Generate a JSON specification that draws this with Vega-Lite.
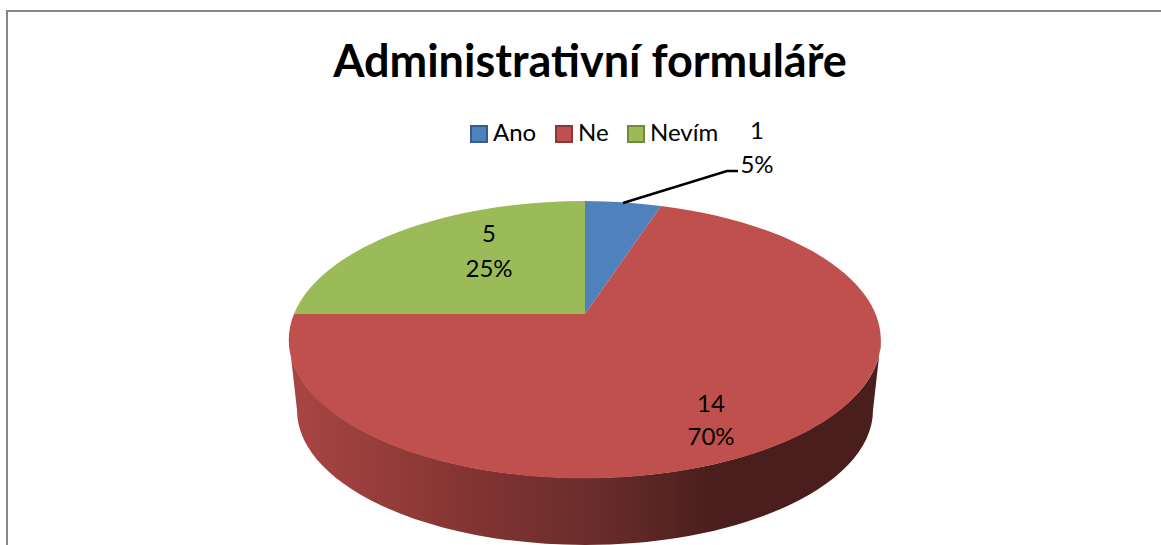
{"$schema":"https://vega.github.io/schema/vega-lite/v6.json","width":1158,"height":538,"autosize":{"type":"none"},"padding":{"left":7,"top":11,"right":0,"bottom":0},"background":"#ffffff","view":{"stroke":"#868686","strokeWidth":2,"fill":"#ffffff"},"title":{"text":"Administrativní formuláře","font":"Lato","fontSize":45,"fontWeight":"bold","color":"#000000","anchor":"middle","frame":"group","baseline":"alphabetic","offset":0,"dx":4,"dy":111},"data":{"values":[{"kategorie":"Ano","pocet":1,"podil":0.05},{"kategorie":"Ne","pocet":14,"podil":0.70},{"kategorie":"Nevím","pocet":5,"podil":0.25}]},"layer":[{"transform":[{"filter":"datum.kategorie === 'Ne'"}],"mark":{"type":"point","filled":true,"opacity":1,"size":4,"strokeWidth":0,"shape":"M-297,59.5 L-289,130 A288,135 0 0 0 287,130 L295,59.5 A296,138.5 0 0 1 -297,59.5 Z","fill":{"gradient":"linear","x1":0,"y1":0,"x2":1,"y2":0,"stops":[{"offset":0,"color":"#a94643"},{"offset":0.27,"color":"#873634"},{"offset":0.53,"color":"#672c2a"},{"offset":0.72,"color":"#4a1e1c"},{"offset":1,"color":"#4a1e1c"}]}},"encoding":{}},{"mark":{"type":"point","filled":true,"opacity":1,"size":4,"strokeWidth":0},"encoding":{"shape":{"field":"kategorie","type":"nominal","legend":null,"scale":{"domain":["Ano","Ne","Nevím"],"range":["M-1,34 L-1,-79 A296,138.5 0 0 1 75,-74 Z","M-1,34 L75,-74 A296,138.5 0 1 1 -292,34 Z","M-1,34 L-292,34 A296,138.5 0 0 1 -1,-79 Z"]}},"fill":{"field":"kategorie","type":"nominal","scale":{"domain":["Ano","Ne","Nevím"],"range":["#4f81bd","#c0504d","#9bbb59"]},"legend":{"title":null,"orient":"none","legendX":460,"legendY":111,"direction":"horizontal","symbolType":"square","symbolSize":256,"symbolStrokeWidth":2,"symbolOpacity":1,"labelFont":"Lato","labelFontSize":24,"labelColor":"#000000","labelOffset":2,"columnPadding":15,"padding":0}},"stroke":{"field":"kategorie","type":"nominal","scale":{"domain":["Ano","Ne","Nevím"],"range":["#385d8a","#8c3836","#71893f"]}}}},{"transform":[{"filter":"datum.kategorie === 'Ano'"}],"mark":{"type":"point","filled":false,"opacity":1,"size":4,"stroke":"#000000","strokeWidth":2.5,"shape":"M37,-77 L141,-109 L152,-109"},"encoding":{}},{"transform":[{"filter":"datum.kategorie === 'Ano'"}],"mark":{"type":"text","font":"Lato","fontSize":24,"color":"#000000","align":"center","baseline":"middle","dx":171,"dy":-148},"encoding":{"text":{"field":"pocet","type":"quantitative"}}},{"transform":[{"filter":"datum.kategorie === 'Ano'"}],"mark":{"type":"text","font":"Lato","fontSize":24,"color":"#000000","align":"center","baseline":"middle","dx":171,"dy":-114},"encoding":{"text":{"field":"podil","type":"quantitative","format":".0%"}}},{"transform":[{"filter":"datum.kategorie === 'Nevím'"}],"mark":{"type":"text","font":"Lato","fontSize":24,"color":"#000000","align":"center","baseline":"middle","dx":-97,"dy":-45},"encoding":{"text":{"field":"pocet","type":"quantitative"}}},{"transform":[{"filter":"datum.kategorie === 'Nevím'"}],"mark":{"type":"text","font":"Lato","fontSize":24,"color":"#000000","align":"center","baseline":"middle","dx":-97,"dy":-10},"encoding":{"text":{"field":"podil","type":"quantitative","format":".0%"}}},{"transform":[{"filter":"datum.kategorie === 'Ne'"}],"mark":{"type":"text","font":"Lato","fontSize":24,"color":"#000000","align":"center","baseline":"middle","dx":125,"dy":125},"encoding":{"text":{"field":"pocet","type":"quantitative"}}},{"transform":[{"filter":"datum.kategorie === 'Ne'"}],"mark":{"type":"text","font":"Lato","fontSize":24,"color":"#000000","align":"center","baseline":"middle","dx":125,"dy":158},"encoding":{"text":{"field":"podil","type":"quantitative","format":".0%"}}}],"resolve":{"scale":{"fill":"independent","stroke":"independent"}}}
